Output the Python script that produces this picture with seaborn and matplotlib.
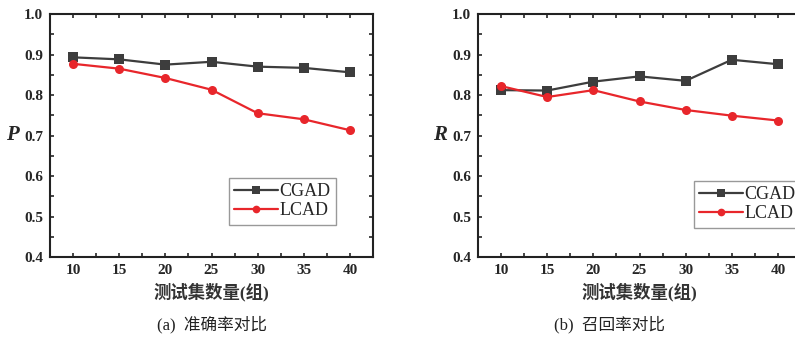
import numpy as np
import pandas as pd
import seaborn as sns
import matplotlib.pyplot as plt
from matplotlib.ticker import MultipleLocator

# data
X = [10, 15, 20, 25, 30, 35, 40]
P_CGAD = [0.893, 0.888, 0.875, 0.882, 0.870, 0.867, 0.856]
P_LCAD = [0.877, 0.865, 0.842, 0.813, 0.755, 0.740, 0.713]
R_CGAD = [0.812, 0.811, 0.833, 0.846, 0.835, 0.887, 0.876]
R_LCAD = [0.822, 0.795, 0.812, 0.784, 0.763, 0.749, 0.737]
SERIES = ['CGAD', 'LCAD']
XLABEL = '测试集数量(组)'
CAPTIONS = ['(a)  准确率对比', '(b)  召回率对比']
YLABELS = ['P', 'R']

sns.set_style('ticks')
plt.rcParams['font.family'] = ['Liberation Serif', 'Noto Sans CJK SC']
plt.rcParams['xtick.direction'] = 'in'
plt.rcParams['ytick.direction'] = 'in'

W, H = 795, 341
fig = plt.figure(figsize=(W / 100, H / 100), dpi=100)
clrs = ('#3d3d3d', '#e8262b')
MIX = ['Liberation Serif', 'Noto Sans CJK SC']

# axes boxes in pixels: (left, top, right, bottom)
boxes = [(50, 14, 373, 257), (478, 14, 801, 257)]
data = [(P_CGAD, P_LCAD), (R_CGAD, R_LCAD)]
ylab_x = [12, 440]
cap_x = [212, 610]
leg_anchor = [(336, 178), (801, 181)]

for i in range(2):
    l, t, r, b = boxes[i]
    ax = fig.add_axes([l / W, 1 - b / H, (r - l) / W, (b - t) / H])
    df = pd.DataFrame({'x': X * 2,
                       'v': list(data[i][0]) + list(data[i][1]),
                       's': [SERIES[0]] * 7 + [SERIES[1]] * 7})
    sns.lineplot(data=df, x='x', y='v', hue='s', style='s',
                 palette=list(clrs), markers=['s', 'o'], dashes=False,
                 markersize=6.5, markeredgewidth=0, linewidth=1.6, ax=ax)
    ax.set_xlim(7.5, 42.5)
    ax.set_ylim(0.4, 1.0)
    ax.xaxis.set_major_locator(MultipleLocator(5))
    ax.xaxis.set_minor_locator(MultipleLocator(2.5))
    ax.yaxis.set_major_locator(MultipleLocator(0.1))
    ax.yaxis.set_minor_locator(MultipleLocator(0.05))
    ax.tick_params(which='both', top=True, right=True, length=3, width=1.2,
                   labelsize=11, pad=5)
    for lbl in ax.get_xticklabels():
        lbl.set_fontweight('bold')
    ax.set_yticks(np.arange(0.4, 1.01, 0.1))
    ax.set_yticklabels(['{:.1f}'.format(v) for v in np.arange(0.4, 1.01, 0.1)],
                       fontweight='bold')
    for sp in ax.spines.values():
        sp.set_linewidth(1.5)
        sp.set_color('#222222')
    ax.set_xlabel(XLABEL, family=MIX, fontweight='bold', fontsize=12.5,
                  color='#333333', labelpad=4)
    ax.set_ylabel('')
    fig.text(ylab_x[i] / W, 1 - 135 / H, YLABELS[i], fontsize=15,
             fontweight='bold', fontstyle='italic', ha='center', va='center')
    fig.text(cap_x[i] / W, 1 - 325 / H, CAPTIONS[i], family=MIX,
             fontsize=12, ha='center', va='center', color='#222222')
    ax_x, ax_y = leg_anchor[i]
    leg = ax.legend(title=None, loc='upper right', fontsize=13,
                    bbox_to_anchor=(ax_x / W, 1 - ax_y / H),
                    bbox_transform=fig.transFigure,
                    handlelength=2.4, handletextpad=0.1, labelspacing=0.1,
                    borderpad=0.3, borderaxespad=0, fancybox=False,
                    framealpha=1, edgecolor='#999999', markerscale=0.85)
    leg.get_frame().set_linewidth(1.0)

fig.savefig('out.png', dpi=100, facecolor='white')
